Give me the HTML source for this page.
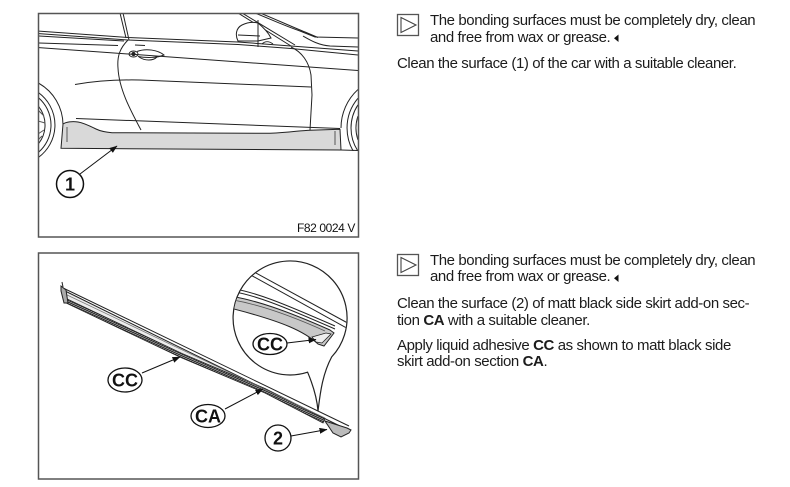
<!DOCTYPE html>
<html>
<head>
<meta charset="utf-8">
<style>
  html,body{margin:0;padding:0;background:#fff;}
  body{width:790px;height:487px;position:relative;overflow:hidden;}
  svg{position:absolute;left:0;top:0;}
  .t{position:absolute;font-family:"Liberation Sans",Arial,sans-serif;font-size:15px;line-height:18px;letter-spacing:-0.41px;white-space:nowrap;color:#1c1c1c;}
  .t b{font-weight:bold;}
</style>
</head>
<body>
<svg width="790" height="487" viewBox="0 0 790 487" xmlns="http://www.w3.org/2000/svg">
  <defs>
    <clipPath id="c1"><rect x="39" y="14" width="319" height="222"/></clipPath>
    <clipPath id="c2"><rect x="39" y="254" width="319" height="224"/></clipPath>
    <clipPath id="rw"><rect x="330" y="80" width="30" height="71"/></clipPath>
    <clipPath id="mag"><circle cx="290" cy="318" r="56.5"/></clipPath>
    <marker id="ah" markerWidth="8" markerHeight="6" refX="7.5" refY="3" orient="auto" markerUnits="userSpaceOnUse">
      <path d="M0 0 L8 3 L0 6 Z" fill="#111"/>
    </marker>
    <pattern id="hp" width="2" height="2" patternUnits="userSpaceOnUse" patternTransform="rotate(60)">
      <rect width="2" height="2" fill="#999"/>
      <rect width="1" height="2" fill="#222"/>
    </pattern>
  </defs>

  <!-- ===== Frame 1: car ===== -->
  <g clip-path="url(#c1)" stroke="#222" stroke-width="1" fill="none">
    <!-- left wheel -->
    <path d="M38 82.8 A48 48 0 0 1 63 125"/>
    <path d="M38 92.3 A40 40 0 0 1 38 157.7"/>
    <path d="M38 97.3 A36 36 0 0 1 38 152.7"/>
    <path d="M38 105.7 A30 30 0 0 1 38 144.3"/>
    <path d="M38 110 L44 116 M38 121 L45 123 M38 134 L44 130 M38 140 L42 136" stroke="#555"/>
    <!-- right wheel -->
    <path d="M358 89.5 A52 52 0 0 0 341 128"/>
    <g clip-path="url(#rw)">
      <path d="M358 98.2 A46 46 0 0 0 358 157.8"/>
      <path d="M358 104.8 A42 42 0 0 0 358 151.2"/>
      <path d="M358 116 A37 37 0 0 0 358 140"/>
    </g>

    <!-- roof / window lines -->
    <path d="M38 31 L128 37.5 L238 42 L291 46 L358 51"/>
    <path d="M38 33.5 L128 40 L238 44.5 L291 48.5 L358 55"/>
    <path d="M38 36 L124 41"/>
    <path d="M38 43 L118 45.5 M135 45 L145 45.5"/>
    <!-- shoulder line -->
    <path d="M38 47.5 L358 70.5"/>
    <!-- A pillar -->
    <path d="M120 13 L126 38 M123 13 L129 40"/>
    <!-- windshield / hood -->
    <path d="M238 13 L291 46 M242 13 L295 45"/>
    <path d="M255 13 C270 19 285 26 300 31 L315 37 L358 38"/>
    <path d="M260 13 C275 19 290 26 305 32 L318 37.5"/>
    <path d="M303 36 C310 40 318 45 330 46 L358 47"/>
    <!-- mirror -->
    <path d="M238 41 C235 35 236 28 242 25 C248 22 254 22 258 23 C264 28 269 34 271 38 L258 41 Z" fill="#fff"/>
    <path d="M238 35 L260 36"/>
    <path d="M258 20 L258 47"/>
    <path d="M262 44 C265 41 269 41 273 44"/>
    <!-- door edges -->
    <path d="M128 40 C120 48 117 56 118 68 C119 90 132 113 141 130"/>
    <path d="M291 47 C302 52 309 62 311 75 L312 95 L310 130"/>
    <!-- crease line -->
    <path d="M75 84.5 C95 81 115 79.5 140 80 L311 87"/>
    <!-- door handle -->
    <ellipse cx="133.5" cy="54" rx="4.5" ry="3"/>
    <circle cx="133.5" cy="54" r="1.6" fill="#222"/>
    <path d="M137 51.5 C146 48 158 50 164 55 C157 58 146 58 138 56.5"/>
    <path d="M139 57 C145 61 153 61 157 57"/>
    <!-- sill line -->
    <path d="M76 118.5 L340 128.5"/>
    <!-- side skirt (surface 1) -->
    <path d="M61 148.3 L63 124 C66 122 72 121 78 122 C84 123 90 126 96 129 C100 131 104 132 112 132.7 L270 133.3 C290 132.5 300 130.5 310 130.2 L340 129.3 L341 150 Z" fill="#d9d9d9"/>
    <path d="M67 127 L67 142 M335 131 L335 145" stroke="#555"/>
    <path d="M341 150 L358 150.5"/>
  </g>
  <!-- label 1 -->
  <line x1="80" y1="174" x2="117" y2="146" stroke="#111" stroke-width="1" marker-end="url(#ah)"/>
  <circle cx="70" cy="184" r="13.5" fill="#fff" stroke="#111" stroke-width="1.5"/>
  <text x="70" y="190.5" text-anchor="middle" font-family="Liberation Sans, Arial, sans-serif" font-weight="bold" font-size="18" fill="#111">1</text>
  <text x="355" y="232" text-anchor="end" font-family="Liberation Sans, Arial, sans-serif" font-size="12" letter-spacing="-0.4" fill="#111">F82 0024 V</text>
  <rect x="38.5" y="13.5" width="320" height="223.5" fill="none" stroke="#555" stroke-width="1.5"/>

  <!-- ===== Frame 2: side skirt ===== -->
  <g clip-path="url(#c2)" stroke="#222" stroke-width="1" fill="none">
    <!-- strip interior -->
    <path d="M63 290 L346 429 L341 433 L323 423 L265 393 L182 358 L64 302 Z" fill="#ececec" stroke="none"/>
    <!-- hatched band -->
    <path d="M64 297.5 L182 353.5 L265 388.5 L325 418.5 L323 423 L265 393 L182 358 L64 302 Z" fill="url(#hp)" stroke="#222" stroke-width="0.8"/>
    <!-- top edges -->
    <path d="M61 287 L349 426"/>
    <path d="M63 290 L346 429"/>
    <path d="M64 293.5 L325 418" stroke="#777" stroke-width="0.7"/>
    <!-- left cap -->
    <path d="M61 286 L61 291 L64 303 L68 303 L66 290 Z" fill="#aaa"/>
    <path d="M62 282 L63 287"/>
    <!-- right end -->
    <path d="M325 421 L347 428 L351 430 L349 433 L341 437 L333 433 Z" fill="#bbb"/>

    <!-- magnifier -->
    <path d="M331.7 356.9 A57 57 0 1 0 307.6 372.2 C313 385 317 398 318 411 C320 395 322 375 331.7 356.9 Z" fill="#fff" stroke-width="1.2"/>
    <g clip-path="url(#mag)">
      <path d="M238 268 L352 331"/>
      <path d="M243 266 L355 327"/>
      <path d="M230 288 C255 292 280 302 335 326"/>
      <path d="M230 291 C255 295 280 305 335 329"/>
      <path d="M230 296 C255 300 285 310 330 330 L334 333 L324 346 L318 344 C305 332 285 322 230 308 Z" fill="#c8c8c8"/>
      <path d="M230 299.5 C255 303.5 285 313 325 331" stroke="#555" stroke-width="0.8"/>
      <path d="M312 337 L326 333 L331 334 L322 343 L316 342 Z" fill="#eee" stroke-width="0.8"/>
    </g>
  </g>
  <!-- labels frame 2 -->
  <g stroke="#111" stroke-width="1">
    <line x1="287" y1="343" x2="316" y2="339.5" marker-end="url(#ah)"/>
    <line x1="142" y1="373" x2="180" y2="357" marker-end="url(#ah)"/>
    <line x1="225" y1="409" x2="263" y2="389" marker-end="url(#ah)"/>
    <line x1="291" y1="436" x2="327" y2="429.5" marker-end="url(#ah)"/>
  </g>
  <g font-family="Liberation Sans, Arial, sans-serif" font-weight="bold" font-size="18" fill="#111" text-anchor="middle">
    <ellipse cx="270" cy="344" rx="17" ry="10.5" fill="#fff" stroke="#111" stroke-width="1.3"/>
    <text x="270" y="350.5">CC</text>
    <ellipse cx="125" cy="380" rx="17" ry="12" fill="#fff" stroke="#111" stroke-width="1.3"/>
    <text x="125" y="386.5">CC</text>
    <ellipse cx="208" cy="416" rx="17" ry="11.5" fill="#fff" stroke="#111" stroke-width="1.3"/>
    <text x="208" y="422.5">CA</text>
    <circle cx="278" cy="438" r="13" fill="#fff" stroke="#111" stroke-width="1.3"/>
    <text x="278" y="444.5">2</text>
  </g>
  <rect x="38.5" y="253" width="320" height="226" fill="none" stroke="#555" stroke-width="1.5"/>

  <!-- note icons -->
  <rect x="397.5" y="14.5" width="21" height="21" fill="none" stroke="#555" stroke-width="1.3"/>
  <path d="M401 17.5 L416 25 L401 32.5 Z" fill="none" stroke="#444" stroke-width="1.1"/>
  <rect x="397.5" y="254.5" width="21" height="21" fill="none" stroke="#555" stroke-width="1.3"/>
  <path d="M401 257.5 L416 265 L401 272.5 Z" fill="none" stroke="#444" stroke-width="1.1"/>
  <!-- end markers -->
  <path d="M618.5 34.5 L614 38.3 L618.5 42 Z" fill="#111"/>
  <path d="M618.5 274.5 L614 278.3 L618.5 282 Z" fill="#111"/>
</svg>

<div class="t" style="left:430px;top:11.5px;">The bonding surfaces must be completely dry, clean</div>
<div class="t" style="left:430px;top:28.5px;">and free from wax or grease.</div>
<div class="t" style="left:397px;top:54.8px;">Clean the surface (1) of the car with a suitable cleaner.</div>

<div class="t" style="left:430px;top:251.5px;">The bonding surfaces must be completely dry, clean</div>
<div class="t" style="left:430px;top:268px;">and free from wax or grease.</div>
<div class="t" style="left:397px;top:294.8px;">Clean the surface (2) of matt black side skirt add-on sec-</div>
<div class="t" style="left:397px;top:311.5px;">tion <b>CA</b> with a suitable cleaner.</div>
<div class="t" style="left:397px;top:336.8px;">Apply liquid adhesive <b>CC</b> as shown to matt black side</div>
<div class="t" style="left:397px;top:353px;">skirt add-on section <b>CA</b>.</div>
</body>
</html>
